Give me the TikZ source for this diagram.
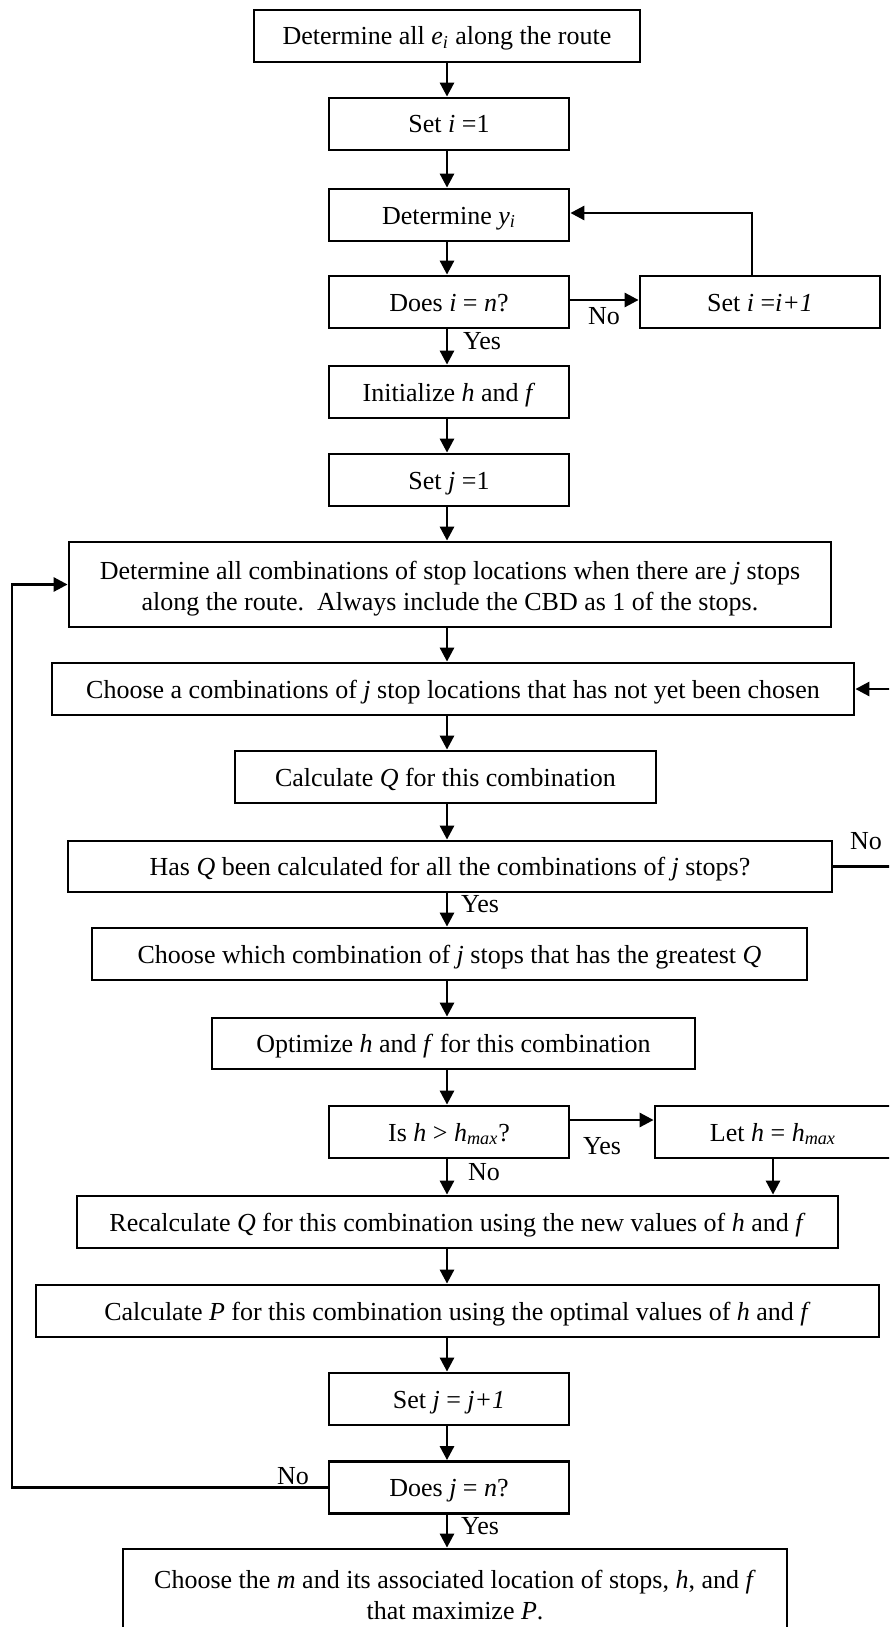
\documentclass[tikz,border=0pt]{standalone}
\usepackage{fontspec}
\setmainfont{Liberation Serif}
\usetikzlibrary{arrows.meta,calc}
\newcommand{\I}[1]{\textit{#1}}
\newcommand{\Sub}[1]{\textsubscript{\itshape #1}}
\begin{document}
\begin{tikzpicture}[x=0.5pt,y=-0.5pt,
  bx/.style={draw,line width=1.4pt,rectangle,inner sep=0pt,align=center,font=\fontsize{13}{15.5}\selectfont},
  b1/.style={bx,text height=9pt,text depth=0pt},
  sbx/.style={b1,minimum width=120pt,minimum height=26pt},
  arr/.style={line width=1.4pt,-{Triangle[length=7pt,width=7pt]}},
  lbl/.style={font=\fontsize{13}{15}\selectfont,inner sep=0pt}]
\useasboundingbox (0,0) rectangle (889,1627);
\clip (0,0) rectangle (889,1627);
\coordinate (col) at (447,0);
\coordinate (eup) at (752,0);
\coordinate (lft) at (12,0);
\coordinate (rgt) at (905,0);

\node[b1,minimum width=193pt,minimum height=26pt] (A) at (447,36) {Determine all \I{e}\Sub{i} along the route};
\node[sbx] (B) at (449,124) {Set \I{i} =1};
\node[sbx] (C) at (449,215) {Determine \I{y}\Sub{i}};
\node[sbx] (D) at (449,302) {Does \I{i} = \I{n}?};
\node[sbx] (E) at (760,302) {Set \I{i} =\I{i+1}};
\node[sbx] (F) at (449,392) {Initialize \I{h} and \I{f}};
\node[sbx] (G) at (449,480) {Set \I{j} =1};
\node[bx,minimum width=381pt,minimum height=42.5pt] (H) at (450,584.5) {\rule{0pt}{13.5pt}Determine all combinations of stop locations when there are \I{j} stops\\along the route.\ \ Always include the CBD as 1 of the stops.};
\node[b1,minimum width=401pt,minimum height=26pt] (I) at (453,689) {Choose a combinations of \I{j} stop locations that has not yet been chosen};
\node[b1,minimum width=210.5pt,minimum height=26pt] (J) at (445.5,777) {Calculate \I{Q} for this combination};
\node[b1,minimum width=382pt,minimum height=25.5pt] (K) at (450,866.5) {Has \I{Q} been calculated for all the combinations of \I{j} stops?};
\node[b1,minimum width=357.5pt,minimum height=26pt] (L) at (449.5,954) {Choose which combination of \I{j} stops that has the greatest \I{Q}};
\node[b1,minimum width=241.5pt,minimum height=25.5pt] (M) at (453.5,1043.5) {Optimize \I{h} and \I{f} for this combination};
\node[sbx] (N) at (449,1132) {Is \I{h} > \I{h}\Sub{max}?};
\node[b1,minimum width=118pt,minimum height=26pt] (O) at (773,1132) {Let \I{h} = \I{h}\Sub{max}};
\node[b1,minimum width=380.5pt,minimum height=26pt] (P) at (457.5,1222) {Recalculate \I{Q} for this combination using the new values of \I{h} and \I{f}};
\node[b1,minimum width=421.5pt,minimum height=26pt] (Q) at (457.5,1311) {Calculate \I{P} for this combination using the optimal values of \I{h} and \I{f}};
\node[sbx] (R) at (449,1399) {Set \I{j} = \I{j+1}};
\node[sbx] (S) at (449,1487.5) {Does \I{j} = \I{n}?};
\node[bx,minimum width=332pt,minimum height=44pt] (T) at (455,1593) {\rule{0pt}{11pt}Choose the \I{m} and its associated location of stops, \I{h}, and \I{f}\\that maximize \I{P}.};

\draw[arr] (A.south -| col) -- (B.north -| col);
\draw[arr] (B.south -| col) -- (C.north -| col);
\draw[arr] (C.south -| col) -- (D.north -| col);
\draw[arr] (D.south -| col) -- (F.north -| col);
\draw[arr] (F.south -| col) -- (G.north -| col);
\draw[arr] (G.south -| col) -- (H.north -| col);
\draw[arr] (H.south -| col) -- (I.north -| col);
\draw[arr] (I.south -| col) -- (J.north -| col);
\draw[arr] (J.south -| col) -- (K.north -| col);
\draw[arr] (K.south -| col) -- (L.north -| col);
\draw[arr] (L.south -| col) -- (M.north -| col);
\draw[arr] (M.south -| col) -- (N.north -| col);
\draw[arr] (N.south -| col) -- (P.north -| col);
\draw[arr] (P.south -| col) -- (Q.north -| col);
\draw[arr] (Q.south -| col) -- (R.north -| col);
\draw[arr] (R.south -| col) -- (S.north -| col);
\draw[arr] (S.south -| col) -- (T.north -| col);

\draw[arr] ([yshift=1pt]D.east) -- ([yshift=1pt]E.west);
\draw[arr] (E.north -| eup) |- ([yshift=1pt]C.east);
\draw[arr] ([yshift=6pt]N.east) -- ([yshift=6pt]O.west);
\draw[arr] (O.south) -- (O.south |- P.north);
\draw[arr] (S.west) -| (lft |- H.west) -- (H.west);
\draw[arr] (K.east) -| (rgt |- I.east) -- (I.east);

\node[lbl] (no1) at (604,316) {No};
\node[lbl] (yes1) at (482,341) {Yes};
\node[lbl] (no2) at (866,841) {No};
\node[lbl] (yes2) at (480,904) {Yes};
\node[lbl] (yes3) at (602,1146) {Yes};
\node[lbl] (no3) at (484,1172) {No};
\node[lbl] (no4) at (293,1476) {No};
\node[lbl] (yes4) at (480,1526) {Yes};
\end{tikzpicture}
\end{document}
